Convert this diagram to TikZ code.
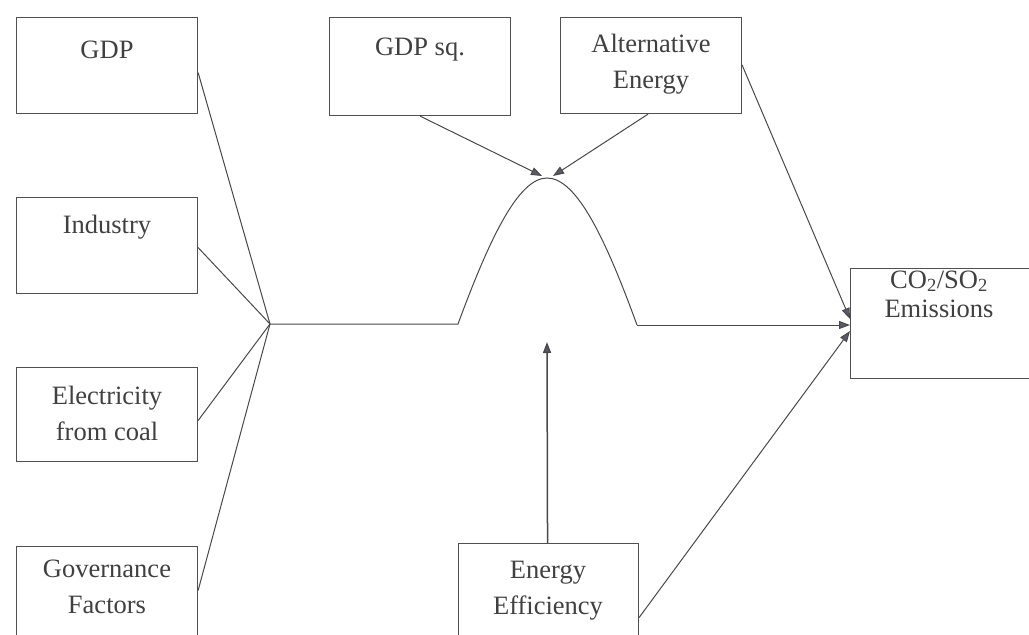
\documentclass[tikz,border=0pt]{standalone}
\usepackage{fontspec}
\setmainfont{Liberation Serif}
\usetikzlibrary{arrows.meta,calc}
\definecolor{boxc}{HTML}{505050}
\definecolor{txtc}{HTML}{404040}
\definecolor{linec}{HTML}{484848}
\definecolor{tipc}{HTML}{5A5A6A}
\begin{document}
\begin{tikzpicture}[x=1pt,y=-1pt,
  box/.style={draw=boxc, line width=1.1pt, minimum width=181pt, anchor=north west, inner sep=0pt},
  lbl/.style={text=txtc, font=\fontsize{26.5}{36}\selectfont, align=center, inner sep=0pt},
  conn/.style={draw=linec, line width=1pt},
  arr/.style={conn, -{Triangle[length=11pt,width=8pt,fill=tipc]}}
]
\useasboundingbox (0,0) rectangle (1029,635);
\clip (0,0) rectangle (1029,635);
% boxes
\node[box, minimum height=96pt] (gdp) at (16,17) {};
\node[box, minimum height=96pt] (ind) at (16,197) {};
\node[box, minimum height=94pt] (ele) at (16,367) {};
\node[box, minimum height=120pt] (gov) at (16,546) {};
\node[box, minimum height=98pt] (gsq) at (329,17) {};
\node[box, minimum height=96pt] (alt) at (560,17) {};
\node[box, minimum height=110pt, minimum width=200pt] (co2) at (850,268) {};
\node[box, minimum height=120pt, minimum width=180pt] (eff) at (458,543) {};
% labels
\node[lbl] (tgdp) at (107,50) {GDP};
\node[lbl] (tind) at (107,227) {Industry};
\node[lbl] (tele) at (107,413) {Electricity\\from coal};
\node[lbl] (tgov) at (107,587) {Governance\\Factors};
\node[lbl] (tgsq) at (420,50) {GDP sq.};
\node[lbl] (talt) at (651,64) {Alternative\\Energy};
\node[lbl, font=\fontsize{26.5}{29}\selectfont] (tco2) at (939,294) {CO\textsubscript{2}/SO\textsubscript{2}\\Emissions};
\node[lbl] (teff) at (548,591) {Energy\\Efficiency};
% curve coordinates
\coordinate (j) at (270,324);
\coordinate (c1) at (458,324);
\coordinate (pk) at (547,178);
\coordinate (c2) at (637,325);
\coordinate (in1) at (850,325);
\coordinate (in2) at (850,319);
\coordinate (in3) at (850,331);
\coordinate (pkl) at (542,176);
\coordinate (pkr) at (553,176);
\coordinate (effup) at (547,342);
% converging lines
\draw[conn] ([yshift=-7pt]gdp.east) -- (j);
\draw[conn] ([yshift=-2pt]ind.east) -- (j);
\draw[conn] ([yshift=-6pt]ele.east) -- (j);
\draw[conn] ([yshift=16pt]gov.east) -- (j);
% main curve
\draw[conn] (j) -- (c1) .. controls (489,240) and (518,178) .. (pk)
  .. controls (577,178) and (606,240) .. (c2);
\draw[arr] (c2) -- (in1);
% arrows to peak
\draw[arr] (gsq.south) -- (pkl);
\draw[arr] ([xshift=-3pt]alt.south) -- (pkr);
% alt energy to emissions
\draw[arr] ([yshift=-48pt]alt.north east) -- (in2);
% energy efficiency
\draw[arr, line width=1.5pt] ([xshift=-1pt]eff.north) -- (effup);
\draw[arr] ([yshift=-14pt]eff.east) -- (in3);
\end{tikzpicture}
\end{document}
